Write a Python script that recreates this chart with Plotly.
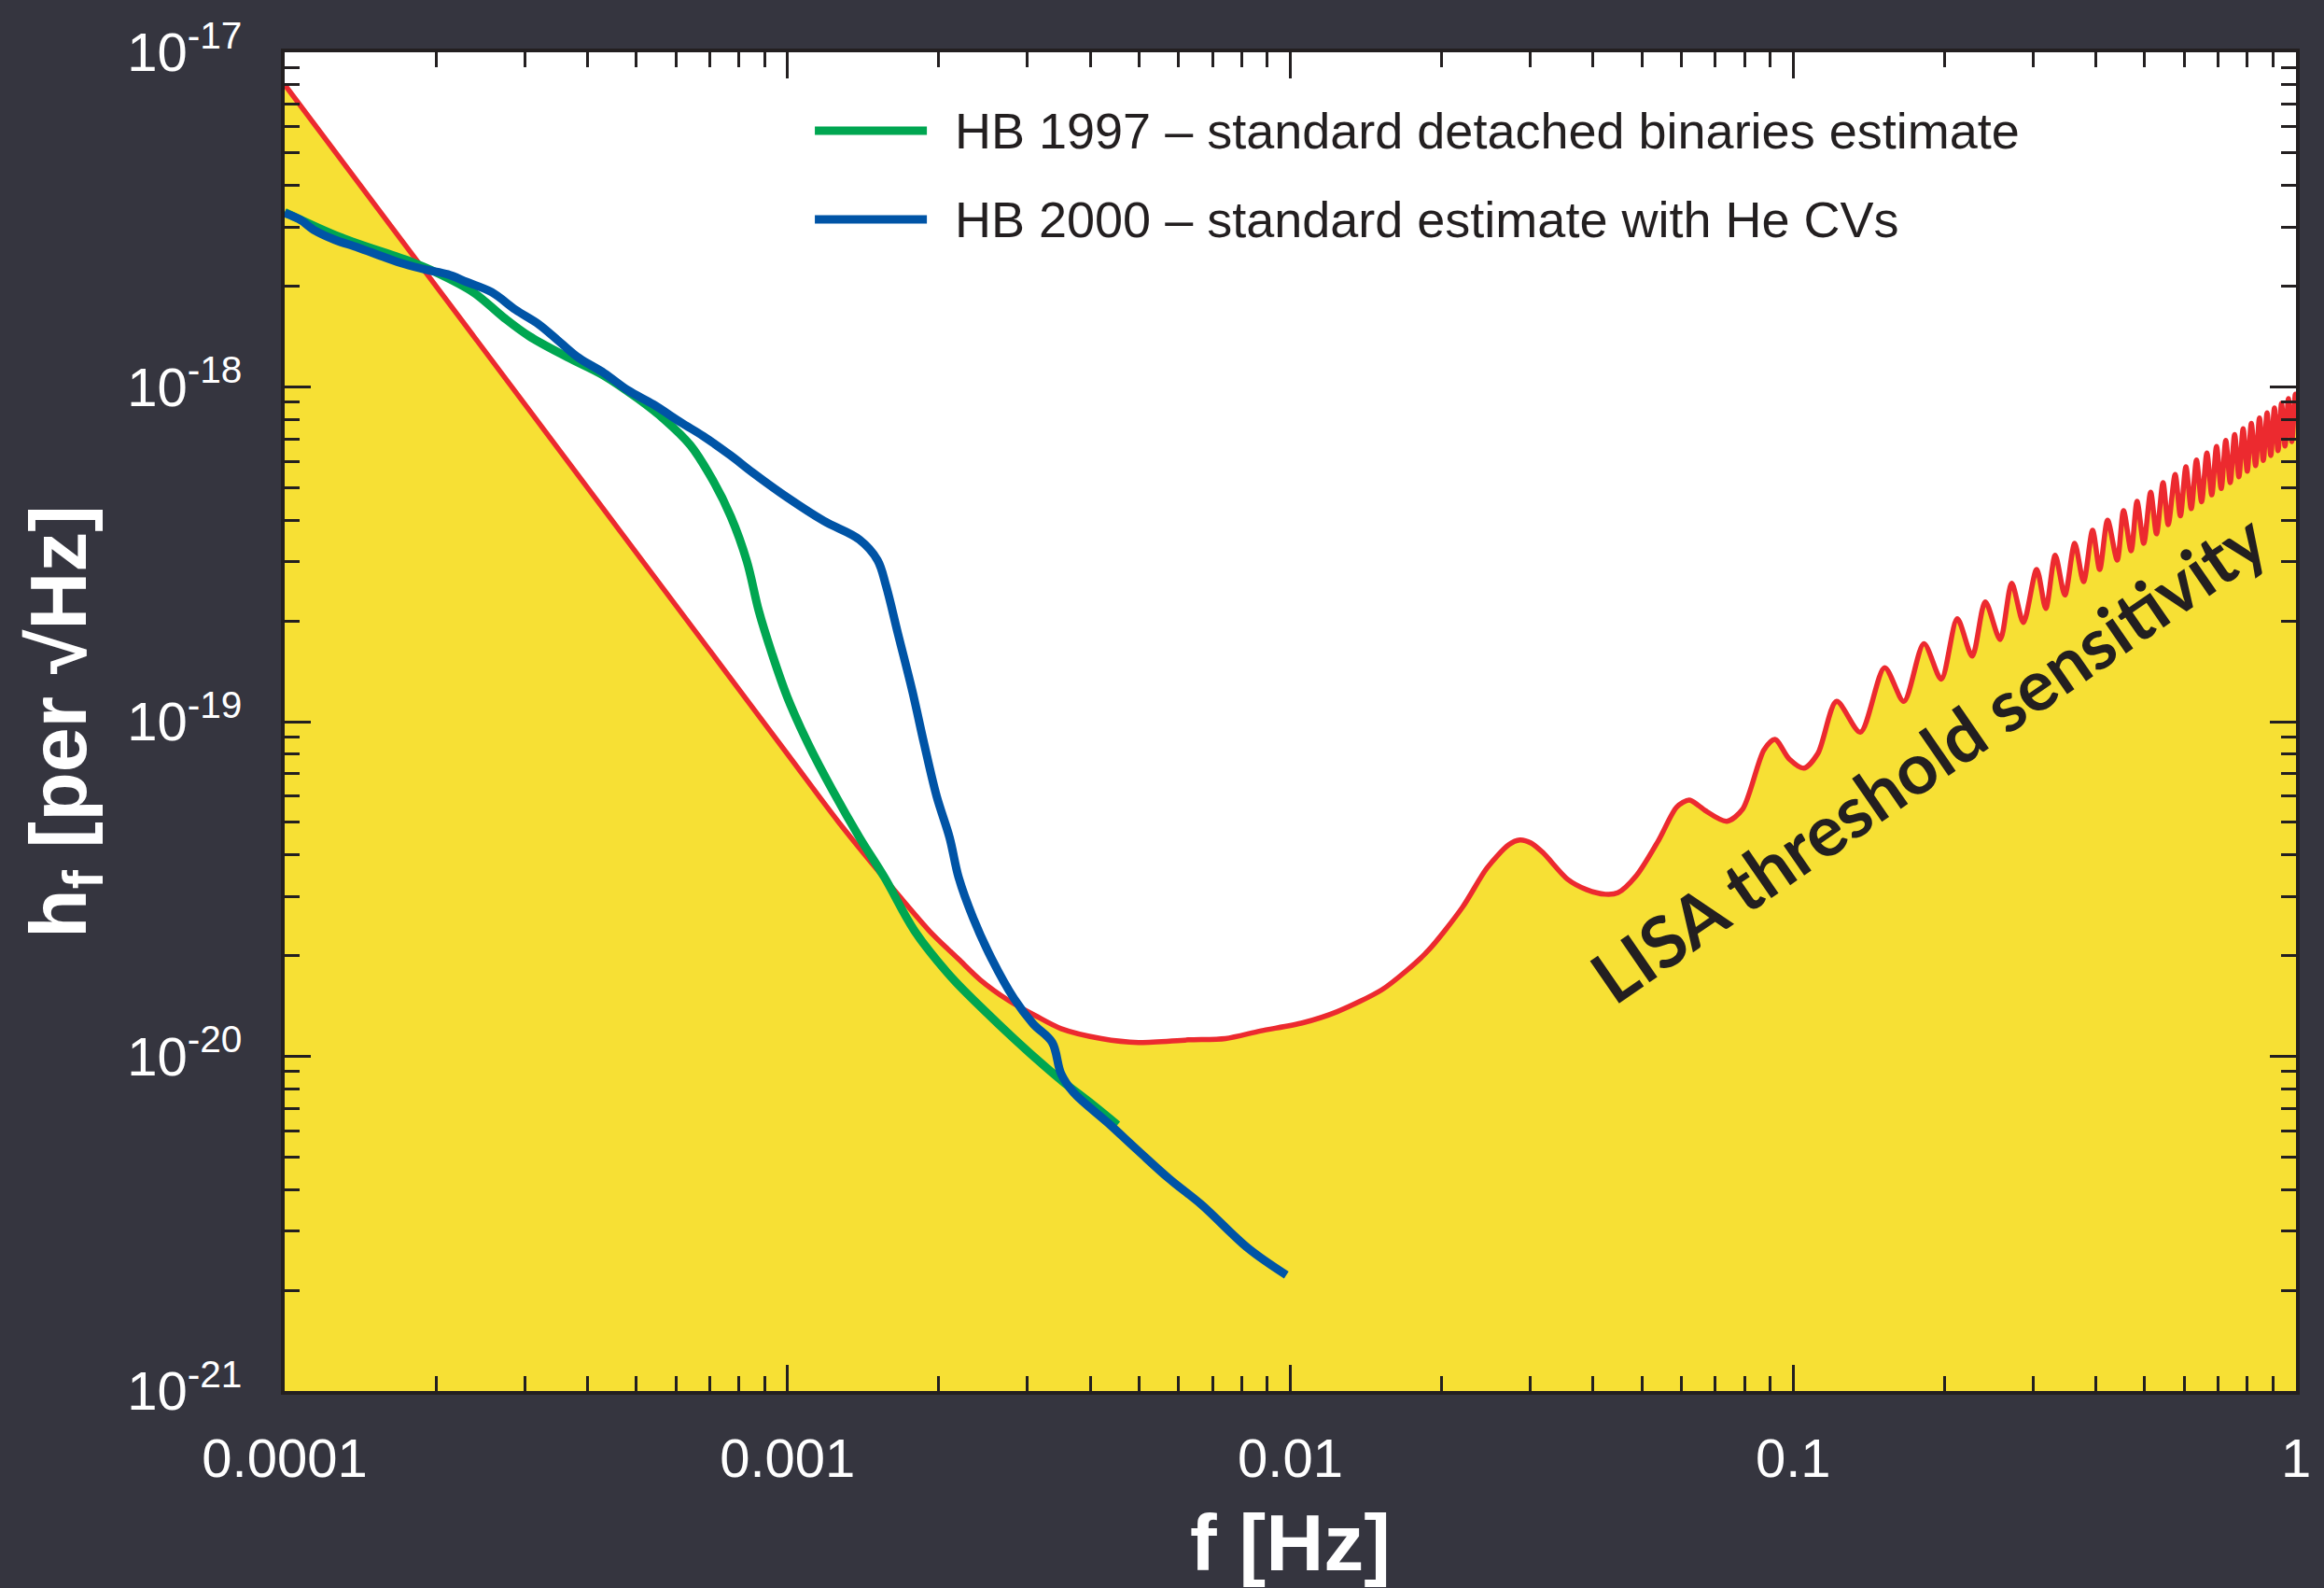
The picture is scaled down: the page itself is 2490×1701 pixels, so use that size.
import plotly.graph_objects as go

# LISA threshold sensitivity (f in Hz, strain per sqrt(Hz))
lisa_f = [1.0e-4, 3.0e-4, 1.0e-3, 1.26e-3, 1.57e-3, 1.92e-3, 2.19e-3, 2.42e-3, 2.75e-3, 3.12e-3,
          3.50e-3, 4.21e-3, 4.99e-3, 6.27e-3, 7.43e-3, 8.71e-3, 1.06e-2, 1.24e-2, 1.52e-2, 1.70e-2,
          1.88e-2, 2.20e-2, 2.46e-2, 2.72e-2, 2.86e-2, 3.01e-2, 3.18e-2, 3.56e-2, 3.88e-2, 4.23e-2,
          4.48e-2, 4.88e-2, 5.40e-2, 5.87e-2, 6.21e-2, 6.49e-2, 6.68e-2, 7.38e-2, 7.93e-2, 8.75e-2,
          9.20e-2, 9.82e-2, 0.105, 0.112, 0.122, 0.136, 0.152, 0.166, 0.182, 0.197,
          0.212, 0.227, 0.241, 0.258, 0.272, 0.287, 0.305, 0.318, 0.332, 0.347,
          0.363, 0.378, 0.394, 0.407, 0.422, 0.441, 0.454, 0.470, 0.483, 0.498,
          0.514, 0.528, 0.544, 0.557, 0.575, 0.589, 0.604, 0.619, 0.634, 0.649,
          0.665, 0.680, 0.695, 0.710, 0.725, 0.740, 0.755, 0.770, 0.785, 0.800,
          0.815, 0.831, 0.846, 0.861, 0.876, 0.891, 0.906, 0.921, 0.936, 0.951,
          0.966, 0.981, 0.997, 1.0]
lisa_h = [8.0e-18, 8.9e-19, 8.0e-20, 5.04e-20, 3.36e-20, 2.36e-20, 1.95e-20, 1.69e-20, 1.47e-20, 1.32e-20,
          1.21e-20, 1.13e-20, 1.10e-20, 1.12e-20, 1.13e-20, 1.19e-20, 1.26e-20, 1.36e-20, 1.58e-20, 1.80e-20,
          2.07e-20, 2.79e-20, 3.65e-20, 4.29e-20, 4.43e-20, 4.34e-20, 4.06e-20, 3.38e-20, 3.15e-20, 3.05e-20,
          3.08e-20, 3.47e-20, 4.42e-20, 5.56e-20, 5.83e-20, 5.61e-20, 5.43e-20, 5.04e-20, 5.47e-20, 8.24e-20,
          8.85e-20, 7.73e-20, 7.26e-20, 8.04e-20, 1.15e-19, 9.3e-20, 1.45e-19, 1.15e-19, 1.71e-19, 1.34e-19,
          2.03e-19, 1.57e-19, 2.28e-19, 1.76e-19, 2.59e-19, 1.98e-19, 2.85e-19, 2.18e-19, 3.14e-19, 2.39e-19,
          3.41e-19, 2.62e-19, 3.73e-19, 2.85e-19, 4.00e-19, 3.04e-19, 4.27e-19, 3.24e-19, 4.55e-19, 3.41e-19,
          4.85e-19, 3.64e-19, 5.18e-19, 3.88e-19, 5.48e-19, 4.12e-19, 5.77e-19, 4.33e-19, 6.05e-19, 4.54e-19,
          6.35e-19, 4.76e-19, 6.64e-19, 4.97e-19, 6.92e-19, 5.18e-19, 7.21e-19, 5.39e-19, 7.50e-19, 5.60e-19,
          7.78e-19, 5.82e-19, 8.08e-19, 6.03e-19, 8.37e-19, 6.24e-19, 8.65e-19, 6.45e-19, 8.94e-19, 6.66e-19,
          9.23e-19, 6.87e-19, 9.52e-19, 9.3e-19]

# HB 1997 - standard detached binaries estimate
hb97_f = [1.0e-4, 1.30e-4, 1.78e-4, 2.00e-4, 2.37e-4, 2.73e-4, 3.06e-4, 3.64e-4, 4.32e-4, 5.04e-4,
          5.71e-4, 6.41e-4, 7.08e-4, 7.71e-4, 8.30e-4, 8.77e-4, 9.31e-4, 1.0e-3, 1.10e-3, 1.23e-3,
          1.39e-3, 1.56e-3, 1.79e-3, 2.12e-3, 2.44e-3, 2.82e-3, 3.26e-3, 3.55e-3, 4.04e-3, 4.53e-3]
hb97_h = [3.33e-18, 2.79e-18, 2.37e-18, 2.20e-18, 1.92e-18, 1.61e-18, 1.42e-18, 1.23e-18, 1.08e-18, 9.23e-19,
          7.96e-19, 6.70e-19, 5.31e-19, 4.11e-19, 3.02e-19, 2.14e-19, 1.60e-19, 1.18e-19, 8.57e-20, 6.22e-20,
          4.51e-20, 3.42e-20, 2.37e-20, 1.72e-20, 1.39e-20, 1.13e-20, 9.29e-21, 8.34e-21, 7.18e-21, 6.24e-21]

# HB 2000 - standard estimate with He CVs
hb00_f = [1.0e-4, 1.07e-4, 1.15e-4, 1.26e-4, 1.40e-4, 1.57e-4, 1.73e-4, 1.91e-4, 2.11e-4, 2.30e-4,
          2.58e-4, 2.88e-4, 3.20e-4, 3.53e-4, 3.85e-4, 4.32e-4, 4.82e-4, 5.41e-4, 6.15e-4, 6.79e-4,
          7.71e-4, 8.51e-4, 1.0e-3, 1.18e-3, 1.39e-3, 1.51e-3, 1.57e-3, 1.66e-3, 1.77e-3, 1.87e-3,
          1.98e-3, 2.10e-3, 2.19e-3, 2.34e-3, 2.55e-3, 2.82e-3, 3.08e-3, 3.36e-3, 3.50e-3, 3.70e-3,
          4.34e-3, 4.99e-3, 5.75e-3, 6.65e-3, 8.24e-3, 9.82e-3]
hb00_h = [3.31e-18, 3.17e-18, 2.93e-18, 2.75e-18, 2.61e-18, 2.45e-18, 2.33e-18, 2.24e-18, 2.17e-18, 2.06e-18,
          1.92e-18, 1.70e-18, 1.54e-18, 1.36e-18, 1.22e-18, 1.10e-18, 9.77e-19, 8.87e-19, 7.82e-19, 7.14e-19,
          6.24e-19, 5.56e-19, 4.67e-19, 3.98e-19, 3.50e-19, 3.04e-19, 2.55e-19, 1.82e-19, 1.24e-19, 8.57e-20,
          5.98e-20, 4.51e-20, 3.42e-20, 2.59e-20, 1.95e-20, 1.49e-20, 1.25e-20, 1.10e-20, 8.87e-21, 7.82e-21,
          6.32e-21, 5.21e-21, 4.30e-21, 3.61e-21, 2.67e-21, 2.22e-21]

x_tickvals = [1e-4, 1e-3, 1e-2, 1e-1, 1]
x_ticktext = ["0.0001", "0.001", "0.01", "0.1", "1"]
y_tickvals = [1e-21, 1e-20, 1e-19, 1e-18, 1e-17]
y_ticktext = ["10<sup>-21</sup>", "10<sup>-20</sup>", "10<sup>-19</sup>", "10<sup>-18</sup>", "10<sup>-17</sup>"]

legend_labels = ["HB 1997 \u2013 standard detached binaries estimate",
                 "HB 2000 \u2013 standard estimate with He CVs"]

BG = "#35353F"
INK = "#231F20"
YELLOW = "#F7E034"
RED = "#EC2A2F"
GREEN = "#00A651"
BLUE = "#0054A6"
FONT = "Liberation Sans, Arial, Helvetica, sans-serif"

x_minor = [k * 10.0 ** e for e in range(-4, 0) for k in range(2, 10)]
y_minor = [k * 10.0 ** e for e in range(-21, -17) for k in range(2, 10)]

fig = go.Figure()

# floor of the shaded region below the sensitivity curve
fig.add_trace(go.Scatter(x=[1e-4, 1.0], y=[1e-22, 1e-22], mode="lines",
                         line=dict(width=0, color=YELLOW), hoverinfo="skip", showlegend=False))
fig.add_trace(go.Scatter(x=lisa_f, y=lisa_h, mode="lines", name="LISA threshold sensitivity",
                         line=dict(color=RED, width=5.5, shape="spline", smoothing=0.8),
                         fill="tonexty", fillcolor=YELLOW, showlegend=False))
fig.add_trace(go.Scatter(x=hb97_f, y=hb97_h, mode="lines", name=legend_labels[0],
                         line=dict(color=GREEN, width=9, shape="spline"), showlegend=False))
fig.add_trace(go.Scatter(x=hb00_f, y=hb00_h, mode="lines", name=legend_labels[1],
                         line=dict(color=BLUE, width=9, shape="spline"), showlegend=False))

axis_common = dict(
    type="log", showgrid=False, zeroline=False,
    showline=True, linecolor=INK, linewidth=4, mirror="allticks",
    ticks="inside", ticklen=28, tickwidth=3, tickcolor=INK,
    tickmode="array",
    tickfont=dict(family=FONT, size=58, color="white"),
)

fig.update_xaxes(
    **axis_common, range=[-4, 0], tickvals=x_tickvals, ticktext=x_ticktext,
    ticklabelstandoff=18,
    minor=dict(tickmode="array", tickvals=x_minor, ticks="inside", ticklen=16,
               tickwidth=3, tickcolor=INK),
    title=dict(text="f [Hz]", standoff=30,
               font=dict(family=FONT, size=86, color="white", weight="bold")),
)
fig.update_yaxes(
    **axis_common, range=[-21, -17], tickvals=y_tickvals, ticktext=y_ticktext,
    ticklabelstandoff=30,
    minor=dict(tickmode="array", tickvals=y_minor, ticks="inside", ticklen=16,
               tickwidth=3, tickcolor=INK),
    title=dict(text="h<sub>f</sub> [per \u221aHz]", standoff=16,
               font=dict(family=FONT, size=86, color="white", weight="bold")),
)

# legend drawn inside the plot area
legend_rows = [(0.9414, GREEN), (0.8752, BLUE)]
for (ypos, col), label in zip(legend_rows, legend_labels):
    fig.add_shape(type="line", xref="paper", yref="paper", x0=0.2636, x1=0.3193,
                  y0=ypos, y1=ypos, line=dict(color=col, width=9))
    fig.add_annotation(xref="paper", yref="paper", x=0.3323, y=ypos, text=label,
                       xanchor="left", yanchor="middle", showarrow=False,
                       font=dict(family=FONT, size=54, color=INK))

fig.add_annotation(xref="paper", yref="paper", x=0.817, y=0.474,
                   xanchor="center", yanchor="middle",
                   text="LISA threshold sensitivity", textangle=-34.6, showarrow=False,
                   font=dict(family="Lato, Open Sans, sans-serif", size=76, color=INK,
                             weight="bold"))

fig.update_layout(
    width=2490, height=1701,
    margin=dict(l=305, r=30, t=56, b=211),
    paper_bgcolor=BG, plot_bgcolor="white",
    showlegend=False,
)

fig.write_html("out.html")
